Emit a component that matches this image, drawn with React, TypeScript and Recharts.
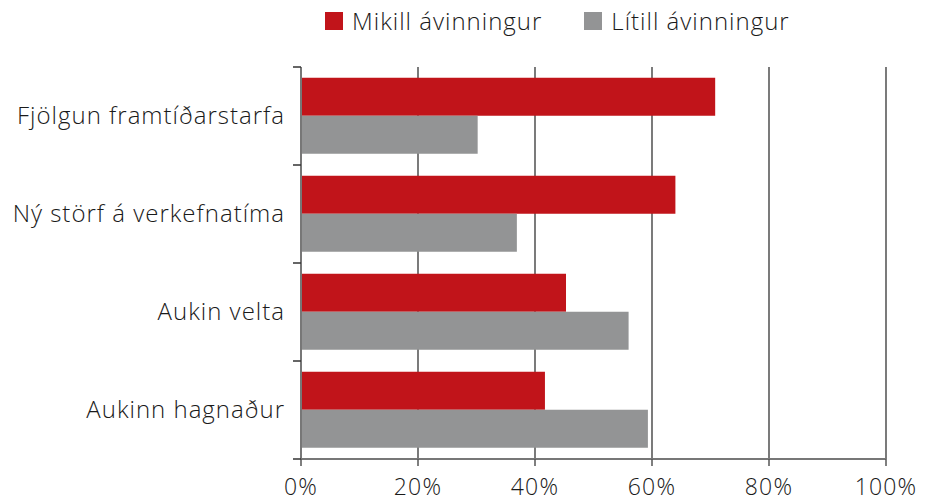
import { Bar, BarChart, CartesianGrid, XAxis, YAxis } from "recharts";

const categories = ["Fjölgun framtíðarstarfa", "Ný störf á verkefnatíma", "Aukin velta", "Aukinn hagnaður"];
const mikill = [70.8, 64.0, 45.3, 41.7];
const litill = [30.2, 36.9, 56.0, 59.3];
const xTicks = [0, 20, 40, 60, 80, 100];
const seriesNames = ["Mikill ávinningur", "Lítill ávinningur"];

const RED = "#c1141a";
const GRAY = "#939495";
const FONT = "'Open Sans', Roboto, sans-serif";

const data = categories.map((c, i) => ({ name: c, mikill: mikill[i], litill: litill[i] }));

function CatTick(props: any) {
  const { x, y, payload, index, visibleTicksCount } = props;
  const off = payload.offset || 0;
  const last = index === visibleTicksCount - 1;
  return (
    <g>
      <line x1={x + 2} x2={x + 10} y1={y - off} y2={y - off} stroke="#333" strokeWidth={1.5} />
      {last && <line x1={x + 2} x2={x + 10} y1={y + off} y2={y + off} stroke="#333" strokeWidth={1.5} />}
      <text
        x={x - 6}
        y={y}
        dy="0.35em"
        textAnchor="end"
        fontSize={24}
        fontWeight={300}
        letterSpacing={1}
        fill="#1a1a1a"
        fontFamily={FONT}
      >
        {payload.value}
      </text>
    </g>
  );
}

export default function App() {
  return (
    <div style={{ position: "absolute", left: 0, top: 0, width: 928, height: 504, background: "#fff", fontFamily: FONT }}>
      <div
        style={{
          position: "absolute",
          left: 325,
          top: 4,
          display: "flex",
          alignItems: "center",
          fontSize: 24,
          fontWeight: 300,
          letterSpacing: 1,
          color: "#1a1a1a",
        }}
      >
        <span style={{ width: 18, height: 18, background: RED, display: "inline-block", marginRight: 9 }} />
        <span style={{ marginRight: 42 }}>{seriesNames[0]}</span>
        <span style={{ width: 18, height: 18, background: GRAY, display: "inline-block", marginRight: 9 }} />
        <span>{seriesNames[1]}</span>
      </div>
      <BarChart
        width={928}
        height={504}
        data={data}
        layout="vertical"
        margin={{ top: 67, right: 42, bottom: 0, left: 0 }}
        barCategoryGap="11%"
        barGap={0}
      >
        <CartesianGrid horizontal={false} stroke="#222" strokeWidth={1.2} />
        <XAxis
          type="number"
          domain={[0, 100]}
          ticks={xTicks}
          tickFormatter={(v) => `${v}%`}
          height={45}
          tickSize={7}
          tickMargin={13}
          axisLine={{ stroke: "#777", strokeWidth: 2 }}
          tickLine={{ stroke: "#555", strokeWidth: 1.5 }}
          tick={{ fontSize: 23, fontWeight: 300, fill: "#1a1a1a", fontFamily: FONT, letterSpacing: 1.2 }}
        />
        <YAxis
          type="category"
          dataKey="name"
          width={301}
          tickSize={8}
          tickMargin={2}
          tickLine={false}
          axisLine={{ stroke: "#777", strokeWidth: 2 }}
          tick={<CatTick />}
        />
        <Bar dataKey="mikill" name={seriesNames[0]} fill={RED} isAnimationActive={false} />
        <Bar dataKey="litill" name={seriesNames[1]} fill={GRAY} isAnimationActive={false} />
      </BarChart>
    </div>
  );
}
